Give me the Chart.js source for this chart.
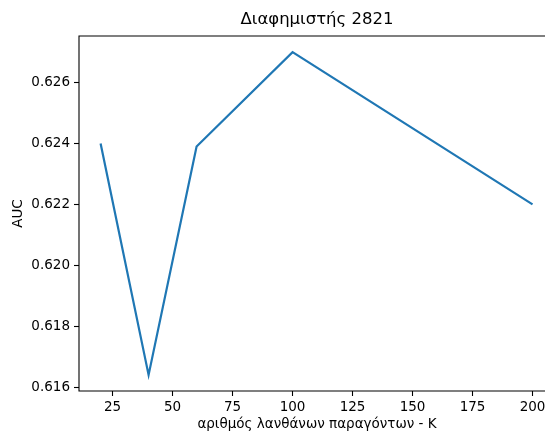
<!DOCTYPE html>
<html>
<head>
<meta charset="utf-8">
<script src="https://cdn.jsdelivr.net/npm/chart.js@4.4.1/dist/chart.umd.min.js"></script>
<style>
  html, body { margin: 0; padding: 0; background: #fff; overflow: hidden; }
  #chart-auc { display: block; }
</style>
</head>
<body>
<canvas id="chart-auc" width="545" height="434"></canvas>
<script>
// K values and AUC
const kValues = [20, 40, 60, 100, 200];
const aucValues = [0.6240, 0.6164, 0.6239, 0.6270, 0.6220];
const xTicks = [25, 50, 75, 100, 125, 150, 175, 200];
const yTicks = [0.616, 0.618, 0.620, 0.622, 0.624, 0.626];

const chartTitle = 'Διαφημιστής 2821';
const xLabel = 'αριθμός λανθάνων παραγόντων - K';
const yLabel = 'AUC';

const ctx = document.getElementById('chart-auc');
const fontFamily = '"DejaVu Sans", sans-serif';

// the reference is cut off on the right: the full axes would end near x = 555
const fullRight = 555;

const framePlugin = {
    id: 'frame',
    afterDraw: function (chart) {
        const a = chart.chartArea;
        const c = chart.ctx;
        c.save();
        c.strokeStyle = '#000';
        c.lineWidth = 1.1;
        c.beginPath();
        c.moveTo(chart.width, a.top);
        c.lineTo(a.left, a.top);
        c.lineTo(a.left, a.bottom);
        c.lineTo(chart.width, a.bottom);
        c.stroke();

        c.fillStyle = '#000';
        c.textAlign = 'center';
        c.textBaseline = 'middle';
        const cx = (a.left + fullRight) / 2;
        c.font = '16.5px ' + fontFamily;
        c.fillText(chartTitle, cx, 20);
        c.font = '13.5px ' + fontFamily;
        c.fillText(xLabel, cx, 424);
        c.translate(18, (a.top + a.bottom) / 2);
        c.rotate(-Math.PI / 2);
        c.fillText(yLabel, 0, 0);
        c.restore();
    }
};

new Chart(ctx, {
    type: 'line',
    data: {
        datasets: [{
            data: kValues.map(function (k, i) { return {x: k, y: aucValues[i]}; }),
            borderColor: '#1f77b4',
            borderWidth: 2.2,
            pointRadius: 0,
            tension: 0,
            fill: false
        }]
    },
    options: {
        responsive: false,
        animation: false,
        layout: {
            padding: {top: 36, right: 0, left: 0, bottom: 0}
        },
        plugins: {
            legend: {display: false},
            tooltip: {enabled: false}
        },
        scales: {
            x: {
                type: 'linear',
                min: 11,
                max: 205.2,
                afterFit: function (scale) {
                    scale.height = 43;
                    scale.paddingRight = 0;
                    scale.paddingLeft = 0;
                },
                afterBuildTicks: function (scale) {
                    scale.ticks = xTicks.map(function (v) { return {value: v}; });
                },
                border: {display: false},
                grid: {
                    drawOnChartArea: false,
                    drawTicks: true,
                    tickLength: 5,
                    tickColor: '#000',
                    tickWidth: 1.1
                },
                ticks: {
                    color: '#000',
                    padding: 3,
                    maxRotation: 0,
                    autoSkip: false,
                    font: {family: fontFamily, size: 13.5}
                }
            },
            y: {
                min: 0.61587,
                max: 0.62753,
                afterFit: function (scale) { scale.width = 79; },
                afterBuildTicks: function (scale) {
                    scale.ticks = yTicks.map(function (v) { return {value: v}; });
                },
                border: {display: false},
                grid: {
                    drawOnChartArea: false,
                    drawTicks: true,
                    tickLength: 5,
                    tickColor: '#000',
                    tickWidth: 1.1
                },
                ticks: {
                    color: '#000',
                    padding: 4,
                    autoSkip: false,
                    font: {family: fontFamily, size: 13.5},
                    callback: function (v) { return v.toFixed(3); }
                }
            }
        }
    },
    plugins: [framePlugin]
});
</script>
</body>
</html>
